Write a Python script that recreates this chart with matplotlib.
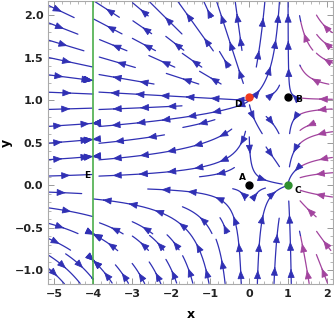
import numpy as np
import matplotlib.pyplot as plt
from matplotlib.patches import FancyArrowPatch

# phase plane window
x_lim = (-5.15, 2.16)
y_lim = (-1.16, 2.17)

# invariant line and equilibria as drawn
line_x = -4.0
point_names = ['A', 'B', 'C', 'D']
point_x = [0.0, 1.0, 1.0, 0.0]
point_y = [0.0, 1.04, 0.0, 1.04]
point_colors = ['black', 'black', '#2f8f2f', '#f03a1e']

# label positions (E has no dot)
label_names = ['A', 'B', 'C', 'D', 'E']
label_x = [-0.17, 1.27, 1.25, -0.28, -4.14]
label_y = [0.09, 1.01, -0.06, 0.95, 0.12]

# y-rate weights on each band (y>1, 0<y<1, y<0)
q_band = [1.0, 0.7, 1.0]

blue = '#3030b4'
purple = '#a2449e'
purple_from_x = 1.33   # streamlines right of this are drawn purple

W = x_lim[1] - x_lim[0]
H = y_lim[1] - y_lim[0]


def field(x, y):
    u = x * (x + 4) * (1 - x)
    r = 1 - x if x < 0 else 1.0
    if y > 1:
        yq = q_band[0]
    elif y > 0:
        yq = q_band[1] * y
    else:
        yq = q_band[2] * y
    v = (x + 4) * r * (y - 1) * yq
    return u, v


def direction(x, y):
    u, v = field(x, y)
    du, dv = u / W, v / H
    s = np.hypot(du, dv)
    if s < 2e-3:
        return None
    return du / s, dv / s


def crossed(a, b, levels):
    return any((a - c) * (b - c) < 0 for c in levels)


NX, NY = 17, 17
mask = np.zeros((NY, NX), dtype=bool)
DS = 0.004
MAXLEN = 0.55


def cell_of(x, y):
    fx = (x - x_lim[0]) / W
    fy = (y - y_lim[0]) / H
    if not (0 <= fx < 1 and 0 <= fy < 1):
        return None
    return int(fx * NX), int(fy * NY)


def trace(x, y, sgn, cells):
    pts = []
    length = 0.0
    while length < MAXLEN:
        c = cell_of(x, y)
        if c is None:
            break
        if c not in cells:
            if mask[c[1], c[0]]:
                break
            cells.add(c)
        pts.append((x, y))
        k1 = direction(x, y)
        if k1 is None:
            break
        xm = x + 0.5 * DS * k1[0] * W * sgn
        ym = y + 0.5 * DS * k1[1] * H * sgn
        k2 = direction(xm, ym)
        if k2 is None:
            break
        xn = x + DS * k2[0] * W * sgn
        yn = y + DS * k2[1] * H * sgn
        if crossed(x, xn, [-4.0, 0.0, 1.0]) or crossed(y, yn, [0.0, 1.0]):
            break
        x, y = xn, yn
        length += DS
    return pts


def colour_at(x):
    return purple if x > purple_from_x else blue


def draw_lines(ax, spacing=0.085, minlen=0.06):
    for j in range(NY):
        for i in range(NX):
            if mask[j, i]:
                continue
            x0 = x_lim[0] + (i + 0.5) / NX * W
            y0 = y_lim[0] + (j + 0.5) / NY * H
            cells = set()
            back = trace(x0, y0, -1, cells)
            fwd = trace(x0, y0, 1, cells)
            pts = back[::-1] + fwd[1:]
            if len(pts) < 3:
                continue
            p = np.array(pts)
            f = np.column_stack([(p[:, 0] - x_lim[0]) / W, (p[:, 1] - y_lim[0]) / H])
            seg = np.hypot(np.diff(f[:, 0]), np.diff(f[:, 1]))
            s = np.concatenate([[0], np.cumsum(seg)])
            if s[-1] < minlen:
                continue
            for cx, cy in cells:
                mask[cy, cx] = True
            # split into blue / purple runs
            side = p[:, 0] > purple_from_x
            start = 0
            for k in range(1, len(p) + 1):
                if k == len(p) or side[k] != side[start]:
                    run = p[start:min(k + 1, len(p))]
                    ax.plot(run[:, 0], run[:, 1], color=purple if side[start] else blue,
                            lw=0.9, solid_capstyle='round', zorder=2)
                    start = k
            n_arr = max(1, int(s[-1] / spacing))
            marks = (np.arange(n_arr) + 0.5) * s[-1] / n_arr
            for m in marks:
                k = np.searchsorted(s, m)
                k = min(max(k, 1), len(p) - 1)
                c = colour_at(p[k, 0])
                ax.add_patch(FancyArrowPatch(tuple(p[k - 1]), tuple(p[k]),
                                             arrowstyle='-|>,head_length=0.6,head_width=0.24',
                                             mutation_scale=9, color=c, lw=0.6,
                                             shrinkA=0, shrinkB=0, zorder=2))


fig = plt.figure(figsize=(3.34, 3.21), dpi=100)
ax = fig.add_axes([0.1446, 0.1153, 0.8524, 0.8816])

draw_lines(ax)

ax.axvline(line_x, color='#4cae4c', lw=1.2, zorder=3)

for px, py, c in zip(point_x, point_y, point_colors):
    ax.plot(px, py, 'o', ms=5, color=c, zorder=5)
for name, lx, ly in zip(label_names, label_x, label_y):
    ax.text(lx, ly, name, fontsize=6.5, fontweight='bold', ha='center', va='center', zorder=6)

ax.set_xlim(x_lim)
ax.set_ylim(y_lim)
ax.set_xticks([-5, -4, -3, -2, -1, 0, 1, 2])
ax.set_yticks([-1.0, -0.5, 0.0, 0.5, 1.0, 1.5, 2.0])
ax.set_yticklabels(['\u22121.0', '\u22120.5', '0.0', '0.5', '1.0', '1.5', '2.0'])
ax.set_xticks(np.arange(-5, 2.2, 0.2), minor=True)
ax.set_yticks(np.arange(-1.1, 2.15, 0.1), minor=True)
ax.tick_params(which='both', direction='in', top=True, right=True, color='#999999')
ax.tick_params(which='major', length=4, width=0.7, labelsize=8, labelcolor='#222222')
ax.tick_params(which='minor', length=2, width=0.5)
for lab in ax.get_xticklabels() + ax.get_yticklabels():
    lab.set_fontweight('bold')
for s in ax.spines.values():
    s.set_color('#aaaaaa')
    s.set_linewidth(0.8)

ax.set_xlabel('x', fontsize=9, fontweight='bold')
ax.set_ylabel('y', fontsize=9, fontweight='bold')
ax.xaxis.set_label_coords(0.5, -0.085)
ax.yaxis.set_label_coords(-0.125, 0.5)

fig.savefig('out.png', dpi=100)
